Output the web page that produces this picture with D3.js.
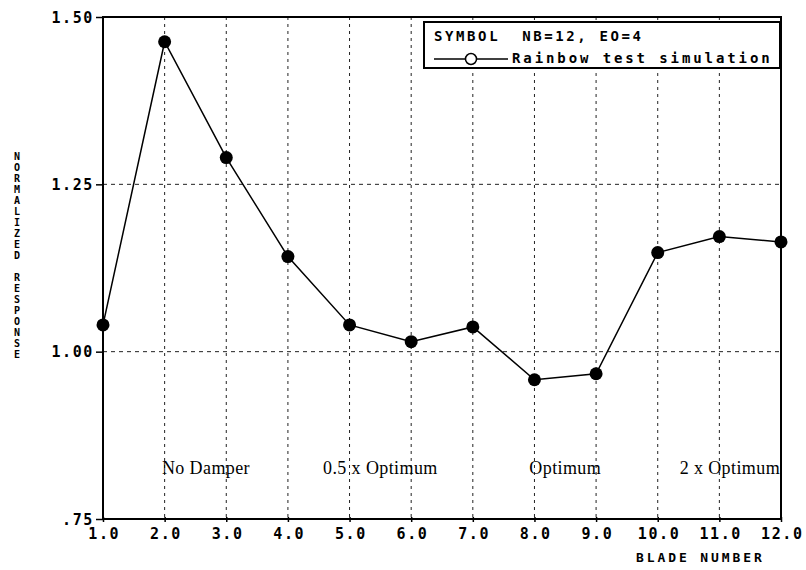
<!DOCTYPE html>
<html>
<head>
<meta charset="utf-8">
<script src="https://cdn.jsdelivr.net/npm/d3@7"></script>
<style>
  body { margin: 0; background: #fff; }
  svg { display: block; }
</style>
</head>
<body>
<svg id="chart" width="806" height="570"></svg>
<script>
// blade numbers and normalized response
const blades = [1, 2, 3, 4, 5, 6, 7, 8, 9, 10, 11, 12];
const response = [1.04, 1.463, 1.29, 1.142, 1.04, 1.015, 1.037, 0.958, 0.967, 1.148, 1.172, 1.164];

const yTicks = [0.75, 1.00, 1.25, 1.50];
const yTickLabels = [".75", "1.00", "1.25", "1.50"];
const xTickLabels = ["1.0", "2.0", "3.0", "4.0", "5.0", "6.0", "7.0", "8.0", "9.0", "10.0", "11.0", "12.0"];

const annotations = ["No Damper", "0.5 x Optimum", "Optimum", "2 x Optimum"];
const annotationX = [2.67, 5.5, 8.5, 11.17];

const legendTitle = "SYMBOL  NB=12, EO=4";
const seriesName = "Rainbow test simulation";

const margin = { left: 103, right: 25, top: 17, bottom: 51 };
const width = 806, height = 570;

const svg = d3.select("#chart");
const monoFont = "'DejaVu Sans Mono', 'Liberation Mono', monospace";

const x = d3.scaleLinear().domain([1, 12]).range([margin.left, width - margin.right]);
const y = d3.scaleLinear().domain([0.75, 1.5]).range([height - margin.bottom, margin.top]);

// grid
svg.append("g")
    .selectAll("line")
    .data(blades.slice(1, -1))
    .join("line")
    .attr("x1", d => x(d)).attr("x2", d => x(d))
    .attr("y1", y(1.5)).attr("y2", y(0.75))
    .attr("stroke", "#222")
    .attr("stroke-width", 1)
    .attr("stroke-dasharray", "3,4");

svg.append("g")
    .selectAll("line")
    .data([1.00, 1.25])
    .join("line")
    .attr("x1", x(1)).attr("x2", x(12))
    .attr("y1", d => y(d)).attr("y2", d => y(d))
    .attr("stroke", "#222")
    .attr("stroke-width", 1)
    .attr("stroke-dasharray", "4,4");

// axes
const xAxis = svg.append("g")
    .attr("transform", "translate(0," + y(0.75) + ")")
    .call(d3.axisBottom(x).tickValues(blades).tickSize(5).tickPadding(4)
        .tickFormat((d, i) => xTickLabels[i]));

const yAxis = svg.append("g")
    .attr("transform", "translate(" + x(1) + ",0)")
    .call(d3.axisLeft(y).tickValues(yTicks).tickSize(7).tickPadding(2)
        .tickFormat((d, i) => yTickLabels[i]));

[xAxis, yAxis].forEach(a => {
    a.select("path.domain").remove();
    a.selectAll("line").attr("stroke", "#000").attr("stroke-width", 1.5);
    a.selectAll("text")
        .attr("fill", "#000")
        .attr("font-family", monoFont)
        .attr("font-weight", "bold")
        .attr("font-size", 15)
        .attr("letter-spacing", 1.6);
});
xAxis.selectAll(".tick line").attr("transform", "translate(0,-2)");
xAxis.selectAll(".tick text").attr("dx", 0.8);
yAxis.selectAll(".tick text").attr("dy", "0.35em");

// frame
svg.append("rect")
    .attr("x", x(1)).attr("y", y(1.5))
    .attr("width", x(12) - x(1)).attr("height", y(0.75) - y(1.5))
    .attr("fill", "none")
    .attr("stroke", "#000")
    .attr("stroke-width", 2);

// axis titles
svg.append("text")
    .attr("x", 636).attr("y", 562)
    .attr("font-family", monoFont)
    .attr("font-weight", "bold")
    .attr("font-size", 13)
    .attr("letter-spacing", 2.9)
    .text("BLADE NUMBER");

const yTitle = "NORMALIZED RESPONSE".split("");
svg.append("g")
    .selectAll("text")
    .data(yTitle)
    .join("text")
    .attr("x", 17)
    .attr("y", (d, i) => 160 + i * 11)
    .attr("text-anchor", "middle")
    .attr("font-family", monoFont)
    .attr("font-weight", "bold")
    .attr("font-size", 10)
    .text(d => d);

// annotations
svg.append("g")
    .selectAll("text")
    .data(annotations)
    .join("text")
    .attr("x", (d, i) => x(annotationX[i]))
    .attr("y", 474)
    .attr("text-anchor", "middle")
    .attr("font-family", "'Liberation Serif', 'DejaVu Serif', serif")
    .attr("font-size", 18)
    .attr("letter-spacing", 0.4)
    .text(d => d);

// series
const line = d3.line()
    .x((d, i) => x(blades[i]))
    .y(d => y(d));

svg.append("path")
    .datum(response)
    .attr("d", line)
    .attr("fill", "none")
    .attr("stroke", "#000")
    .attr("stroke-width", 1.5);

svg.append("g")
    .selectAll("circle")
    .data(response)
    .join("circle")
    .attr("cx", (d, i) => x(blades[i]))
    .attr("cy", d => y(d))
    .attr("r", 6.5)
    .attr("fill", "#000");

// legend
const legend = svg.append("g");
legend.append("rect")
    .attr("x", 424).attr("y", 22)
    .attr("width", 356).attr("height", 46)
    .attr("fill", "#fff")
    .attr("stroke", "#000")
    .attr("stroke-width", 2);

legend.append("text")
    .attr("x", 434).attr("y", 41)
    .attr("font-family", monoFont)
    .attr("font-weight", "bold")
    .attr("font-size", 14)
    .attr("letter-spacing", 2.6)
    .attr("xml:space", "preserve")
    .style("white-space", "pre")
    .text(legendTitle);

legend.append("line")
    .attr("x1", 434).attr("x2", 508)
    .attr("y1", 59).attr("y2", 59)
    .attr("stroke", "#000").attr("stroke-width", 1.5);
legend.append("circle")
    .attr("cx", 471).attr("cy", 59).attr("r", 5.5)
    .attr("fill", "#fff").attr("stroke", "#000").attr("stroke-width", 1.5);

legend.append("text")
    .attr("x", 512).attr("y", 63)
    .attr("font-family", monoFont)
    .attr("font-weight", "bold")
    .attr("font-size", 14)
    .attr("letter-spacing", 2.9)
    .text(seriesName);
</script>
</body>
</html>
